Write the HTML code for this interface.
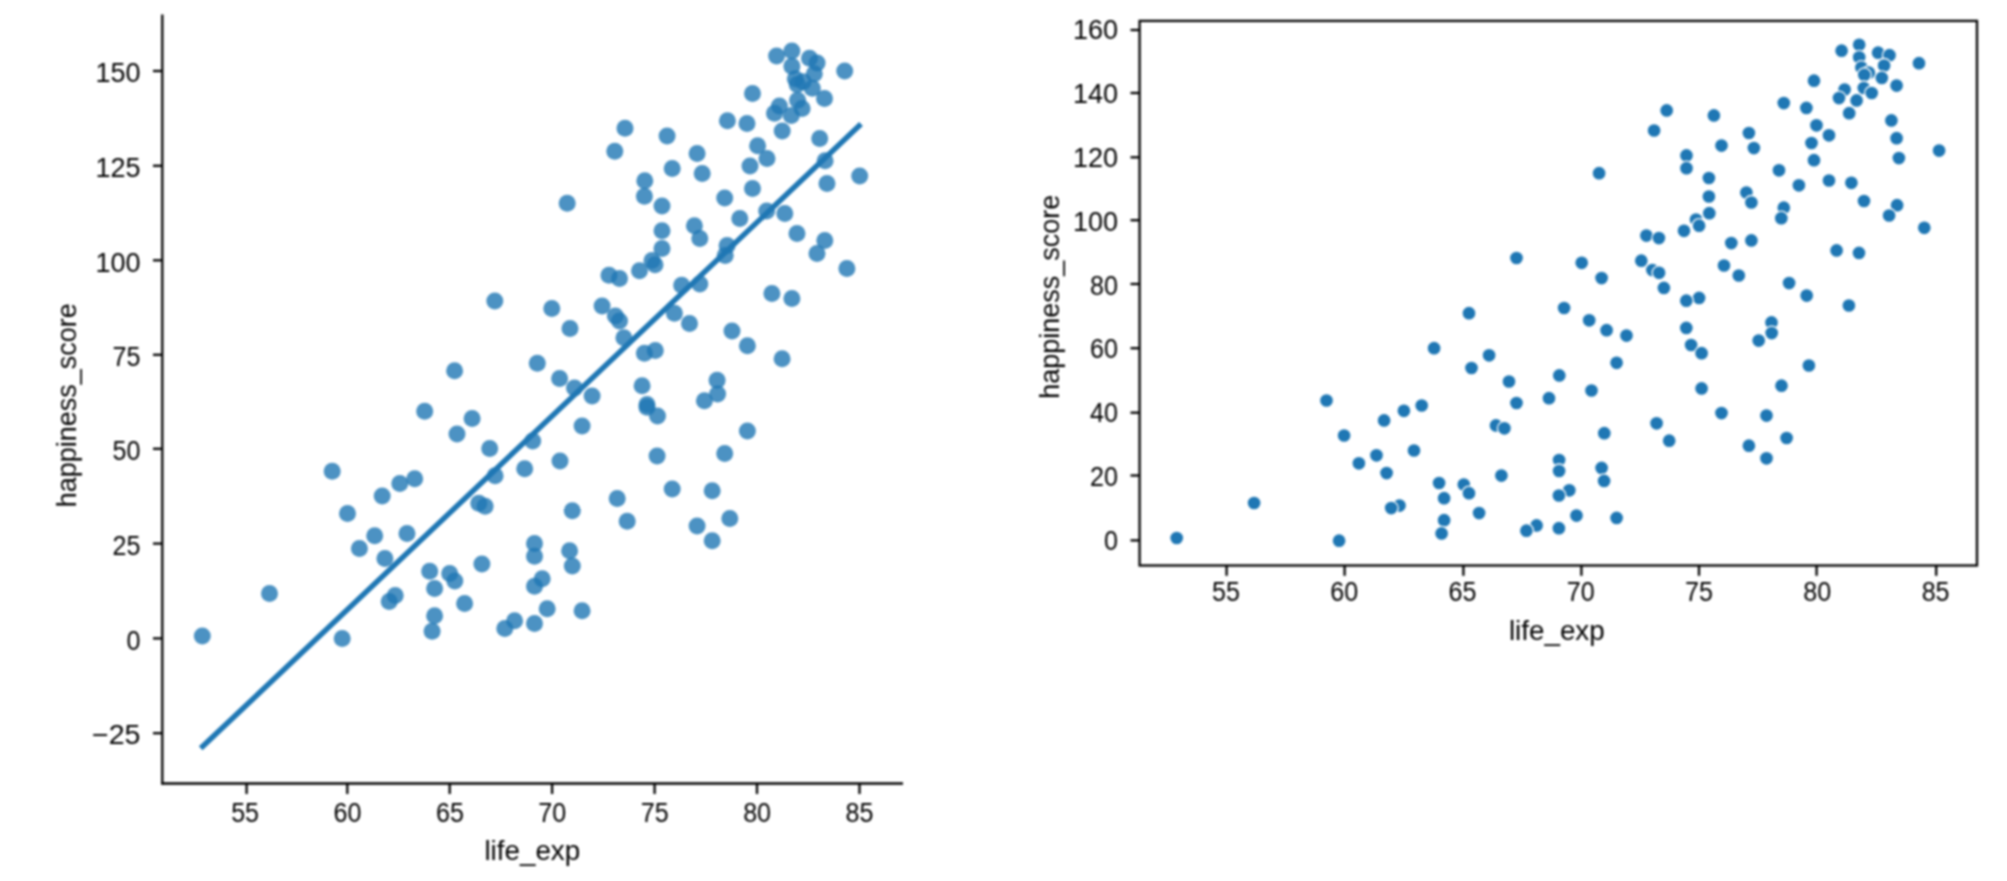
<!DOCTYPE html>
<html><head><meta charset="utf-8"><title>scatter</title>
<style>html,body{margin:0;padding:0;background:#fff;}svg{display:block;filter:blur(0.9px);}text{font-family:"Liberation Sans",sans-serif;fill:#000;}</style>
</head><body>
<svg width="2007" height="881" viewBox="0 0 2007 881">
<rect x="0" y="0" width="2007" height="881" fill="#ffffff"/>
<g id="left">
<g fill="#1f77b4" fill-opacity="0.8">
<circle cx="776.6" cy="56.0" r="8.5"/>
<circle cx="791.9" cy="50.9" r="8.5"/>
<circle cx="791.9" cy="66.2" r="8.5"/>
<circle cx="809.5" cy="58.3" r="8.5"/>
<circle cx="817.1" cy="63.0" r="8.5"/>
<circle cx="844.7" cy="71.1" r="8.5"/>
<circle cx="814.3" cy="73.8" r="8.5"/>
<circle cx="795.3" cy="78.7" r="8.5"/>
<circle cx="797.2" cy="84.6" r="8.5"/>
<circle cx="803.2" cy="81.8" r="8.5"/>
<circle cx="812.3" cy="88.3" r="8.5"/>
<circle cx="824.5" cy="98.6" r="8.5"/>
<circle cx="797.6" cy="100.3" r="8.5"/>
<circle cx="802.1" cy="108.4" r="8.5"/>
<circle cx="779.4" cy="105.9" r="8.5"/>
<circle cx="774.5" cy="113.3" r="8.5"/>
<circle cx="791.3" cy="115.6" r="8.5"/>
<circle cx="782.2" cy="130.9" r="8.5"/>
<circle cx="625.0" cy="128.3" r="8.5"/>
<circle cx="614.8" cy="151.2" r="8.5"/>
<circle cx="667.1" cy="135.9" r="8.5"/>
<circle cx="697.1" cy="153.5" r="8.5"/>
<circle cx="672.2" cy="168.4" r="8.5"/>
<circle cx="702.2" cy="173.5" r="8.5"/>
<circle cx="644.8" cy="180.8" r="8.5"/>
<circle cx="727.4" cy="120.8" r="8.5"/>
<circle cx="747.0" cy="123.4" r="8.5"/>
<circle cx="752.5" cy="93.6" r="8.5"/>
<circle cx="757.6" cy="145.7" r="8.5"/>
<circle cx="767.0" cy="158.4" r="8.5"/>
<circle cx="750.0" cy="165.9" r="8.5"/>
<circle cx="819.7" cy="138.4" r="8.5"/>
<circle cx="825.1" cy="160.8" r="8.5"/>
<circle cx="827.0" cy="183.5" r="8.5"/>
<circle cx="859.7" cy="175.9" r="8.5"/>
<circle cx="567.2" cy="203.2" r="8.5"/>
<circle cx="644.4" cy="196.3" r="8.5"/>
<circle cx="662.0" cy="206.0" r="8.5"/>
<circle cx="724.7" cy="198.1" r="8.5"/>
<circle cx="752.5" cy="188.5" r="8.5"/>
<circle cx="739.8" cy="218.5" r="8.5"/>
<circle cx="766.7" cy="210.9" r="8.5"/>
<circle cx="784.8" cy="213.6" r="8.5"/>
<circle cx="797.0" cy="233.6" r="8.5"/>
<circle cx="662.0" cy="230.8" r="8.5"/>
<circle cx="694.4" cy="225.8" r="8.5"/>
<circle cx="699.8" cy="238.6" r="8.5"/>
<circle cx="662.0" cy="248.6" r="8.5"/>
<circle cx="727.1" cy="245.4" r="8.5"/>
<circle cx="725.2" cy="255.4" r="8.5"/>
<circle cx="824.8" cy="240.5" r="8.5"/>
<circle cx="817.0" cy="253.5" r="8.5"/>
<circle cx="846.9" cy="268.4" r="8.5"/>
<circle cx="652.0" cy="260.4" r="8.5"/>
<circle cx="655.0" cy="264.8" r="8.5"/>
<circle cx="639.5" cy="270.8" r="8.5"/>
<circle cx="609.0" cy="275.3" r="8.5"/>
<circle cx="619.5" cy="278.4" r="8.5"/>
<circle cx="681.7" cy="285.3" r="8.5"/>
<circle cx="699.8" cy="284.1" r="8.5"/>
<circle cx="771.9" cy="293.5" r="8.5"/>
<circle cx="791.9" cy="298.6" r="8.5"/>
<circle cx="551.8" cy="308.4" r="8.5"/>
<circle cx="602.1" cy="306.0" r="8.5"/>
<circle cx="615.4" cy="316.0" r="8.5"/>
<circle cx="619.5" cy="320.9" r="8.5"/>
<circle cx="570.0" cy="328.5" r="8.5"/>
<circle cx="623.9" cy="337.8" r="8.5"/>
<circle cx="674.4" cy="313.2" r="8.5"/>
<circle cx="689.5" cy="323.6" r="8.5"/>
<circle cx="732.0" cy="330.9" r="8.5"/>
<circle cx="747.4" cy="345.8" r="8.5"/>
<circle cx="782.1" cy="358.7" r="8.5"/>
<circle cx="644.4" cy="353.2" r="8.5"/>
<circle cx="655.3" cy="350.5" r="8.5"/>
<circle cx="537.3" cy="363.2" r="8.5"/>
<circle cx="559.6" cy="378.5" r="8.5"/>
<circle cx="574.5" cy="388.1" r="8.5"/>
<circle cx="592.1" cy="395.9" r="8.5"/>
<circle cx="642.1" cy="385.7" r="8.5"/>
<circle cx="717.1" cy="380.3" r="8.5"/>
<circle cx="717.6" cy="393.9" r="8.5"/>
<circle cx="704.4" cy="400.8" r="8.5"/>
<circle cx="582.1" cy="425.9" r="8.5"/>
<circle cx="747.4" cy="431.1" r="8.5"/>
<circle cx="647.0" cy="404.4" r="8.5"/>
<circle cx="647.0" cy="407.3" r="8.5"/>
<circle cx="657.5" cy="416.0" r="8.5"/>
<circle cx="560.0" cy="460.9" r="8.5"/>
<circle cx="657.1" cy="456.0" r="8.5"/>
<circle cx="724.7" cy="453.6" r="8.5"/>
<circle cx="672.2" cy="489.0" r="8.5"/>
<circle cx="712.2" cy="490.8" r="8.5"/>
<circle cx="617.2" cy="498.5" r="8.5"/>
<circle cx="572.3" cy="510.8" r="8.5"/>
<circle cx="627.2" cy="521.2" r="8.5"/>
<circle cx="697.1" cy="525.9" r="8.5"/>
<circle cx="729.8" cy="518.6" r="8.5"/>
<circle cx="712.2" cy="540.8" r="8.5"/>
<circle cx="534.5" cy="543.5" r="8.5"/>
<circle cx="534.5" cy="556.2" r="8.5"/>
<circle cx="569.6" cy="550.8" r="8.5"/>
<circle cx="572.3" cy="565.9" r="8.5"/>
<circle cx="532.7" cy="440.9" r="8.5"/>
<circle cx="542.2" cy="578.7" r="8.5"/>
<circle cx="534.5" cy="586.3" r="8.5"/>
<circle cx="547.2" cy="608.7" r="8.5"/>
<circle cx="582.1" cy="610.8" r="8.5"/>
<circle cx="534.5" cy="623.6" r="8.5"/>
<circle cx="494.8" cy="300.9" r="8.5"/>
<circle cx="454.6" cy="370.8" r="8.5"/>
<circle cx="424.7" cy="411.2" r="8.5"/>
<circle cx="472.1" cy="418.6" r="8.5"/>
<circle cx="457.0" cy="433.9" r="8.5"/>
<circle cx="489.7" cy="448.5" r="8.5"/>
<circle cx="332.2" cy="471.2" r="8.5"/>
<circle cx="399.8" cy="483.6" r="8.5"/>
<circle cx="414.7" cy="478.7" r="8.5"/>
<circle cx="382.2" cy="495.9" r="8.5"/>
<circle cx="347.5" cy="513.5" r="8.5"/>
<circle cx="374.7" cy="535.7" r="8.5"/>
<circle cx="407.0" cy="533.5" r="8.5"/>
<circle cx="359.4" cy="548.6" r="8.5"/>
<circle cx="384.9" cy="558.6" r="8.5"/>
<circle cx="495.1" cy="475.8" r="8.5"/>
<circle cx="524.7" cy="468.7" r="8.5"/>
<circle cx="478.8" cy="503.2" r="8.5"/>
<circle cx="485.1" cy="506.3" r="8.5"/>
<circle cx="481.9" cy="563.9" r="8.5"/>
<circle cx="429.7" cy="571.3" r="8.5"/>
<circle cx="202.3" cy="635.9" r="8.5"/>
<circle cx="269.5" cy="593.6" r="8.5"/>
<circle cx="342.2" cy="638.5" r="8.5"/>
<circle cx="449.7" cy="573.6" r="8.5"/>
<circle cx="454.8" cy="580.9" r="8.5"/>
<circle cx="434.6" cy="588.5" r="8.5"/>
<circle cx="395.2" cy="595.4" r="8.5"/>
<circle cx="389.2" cy="601.4" r="8.5"/>
<circle cx="464.6" cy="603.6" r="8.5"/>
<circle cx="434.6" cy="615.8" r="8.5"/>
<circle cx="432.1" cy="631.2" r="8.5"/>
<circle cx="514.6" cy="620.8" r="8.5"/>
<circle cx="504.8" cy="628.6" r="8.5"/>
</g>
<line x1="200.7" y1="748.3" x2="861" y2="124" stroke="#1f77b4" stroke-width="5.4" stroke-linecap="butt"/>
<g stroke="#000000" stroke-width="2.3" fill="none">
<line x1="162.3" y1="14.5" x2="162.3" y2="784.5"/>
<line x1="161.3" y1="783.5" x2="903" y2="783.5"/>
<line x1="246.6" y1="783.5" x2="246.6" y2="794"/>
<line x1="347.3" y1="783.5" x2="347.3" y2="794"/>
<line x1="449.7" y1="783.5" x2="449.7" y2="794"/>
<line x1="552.1" y1="783.5" x2="552.1" y2="794"/>
<line x1="654.6" y1="783.5" x2="654.6" y2="794"/>
<line x1="757.0" y1="783.5" x2="757.0" y2="794"/>
<line x1="859.5" y1="783.5" x2="859.5" y2="794"/>
<line x1="153" y1="71" x2="162.3" y2="71"/>
<line x1="153" y1="165.8" x2="162.3" y2="165.8"/>
<line x1="153" y1="260.3" x2="162.3" y2="260.3"/>
<line x1="153" y1="354.8" x2="162.3" y2="354.8"/>
<line x1="153" y1="448.8" x2="162.3" y2="448.8"/>
<line x1="153" y1="543.6" x2="162.3" y2="543.6"/>
<line x1="153" y1="638.4" x2="162.3" y2="638.4"/>
<line x1="153" y1="733.2" x2="162.3" y2="733.2"/>
</g>
<text transform="translate(245.1,822.0) scale(0.93,1)" font-size="27" text-anchor="middle">55</text>
<text transform="translate(347.5,822.0) scale(0.93,1)" font-size="27" text-anchor="middle">60</text>
<text transform="translate(449.9,822.0) scale(0.93,1)" font-size="27" text-anchor="middle">65</text>
<text transform="translate(552.3,822.0) scale(0.93,1)" font-size="27" text-anchor="middle">70</text>
<text transform="translate(654.7,822.0) scale(0.93,1)" font-size="27" text-anchor="middle">75</text>
<text transform="translate(757.1,822.0) scale(0.93,1)" font-size="27" text-anchor="middle">80</text>
<text transform="translate(859.5,822.0) scale(0.93,1)" font-size="27" text-anchor="middle">85</text>
<text transform="translate(140.5,82.2)" font-size="27" text-anchor="end">150</text>
<text transform="translate(140.5,177.0)" font-size="27" text-anchor="end">125</text>
<text transform="translate(140.5,271.5)" font-size="27" text-anchor="end">100</text>
<text transform="translate(140.5,366.0) scale(0.93,1)" font-size="27" text-anchor="end">75</text>
<text transform="translate(140.5,460.0) scale(0.93,1)" font-size="27" text-anchor="end">50</text>
<text transform="translate(140.5,554.8) scale(0.93,1)" font-size="27" text-anchor="end">25</text>
<text transform="translate(140.5,649.6) scale(0.93,1)" font-size="27" text-anchor="end">0</text>
<text transform="translate(140.5,744.4) scale(1.06,1)" font-size="27" text-anchor="end">−25</text>
<text transform="translate(532.3,860.0) scale(1.03,1)" font-size="27" text-anchor="middle">life_exp</text>
<text transform="translate(76,405.3) rotate(-90)" font-size="27" text-anchor="middle">happiness_score</text>
</g>
<g id="right">
<g fill="#1f77b4" stroke="#ffffff" stroke-width="1.3">
<circle cx="1176.7" cy="538.0" r="7.0"/>
<circle cx="1254.1" cy="503.0" r="7.0"/>
<circle cx="1339.1" cy="540.7" r="7.0"/>
<circle cx="1326.5" cy="400.5" r="7.0"/>
<circle cx="1344.1" cy="435.5" r="7.0"/>
<circle cx="1358.9" cy="463.3" r="7.0"/>
<circle cx="1376.5" cy="455.3" r="7.0"/>
<circle cx="1384.1" cy="420.4" r="7.0"/>
<circle cx="1386.6" cy="473.1" r="7.0"/>
<circle cx="1403.9" cy="410.8" r="7.0"/>
<circle cx="1421.7" cy="405.5" r="7.0"/>
<circle cx="1414.0" cy="450.5" r="7.0"/>
<circle cx="1399.5" cy="505.6" r="7.0"/>
<circle cx="1391.2" cy="508.1" r="7.0"/>
<circle cx="1439.1" cy="483.0" r="7.0"/>
<circle cx="1444.1" cy="498.2" r="7.0"/>
<circle cx="1444.1" cy="520.2" r="7.0"/>
<circle cx="1441.6" cy="533.4" r="7.0"/>
<circle cx="1463.8" cy="484.6" r="7.0"/>
<circle cx="1469.0" cy="493.2" r="7.0"/>
<circle cx="1479.1" cy="513.1" r="7.0"/>
<circle cx="1496.0" cy="425.4" r="7.0"/>
<circle cx="1504.4" cy="428.3" r="7.0"/>
<circle cx="1501.4" cy="475.6" r="7.0"/>
<circle cx="1516.5" cy="403.0" r="7.0"/>
<circle cx="1509.0" cy="381.5" r="7.0"/>
<circle cx="1549.0" cy="398.2" r="7.0"/>
<circle cx="1536.6" cy="525.4" r="7.0"/>
<circle cx="1526.4" cy="530.7" r="7.0"/>
<circle cx="1591.5" cy="390.5" r="7.0"/>
<circle cx="1604.3" cy="433.2" r="7.0"/>
<circle cx="1559.1" cy="460.1" r="7.0"/>
<circle cx="1559.1" cy="471.0" r="7.0"/>
<circle cx="1601.6" cy="467.9" r="7.0"/>
<circle cx="1604.1" cy="480.9" r="7.0"/>
<circle cx="1569.3" cy="490.3" r="7.0"/>
<circle cx="1558.9" cy="495.5" r="7.0"/>
<circle cx="1576.5" cy="515.6" r="7.0"/>
<circle cx="1616.6" cy="517.9" r="7.0"/>
<circle cx="1558.9" cy="528.2" r="7.0"/>
<circle cx="1656.6" cy="423.3" r="7.0"/>
<circle cx="1669.2" cy="440.7" r="7.0"/>
<circle cx="1701.6" cy="388.4" r="7.0"/>
<circle cx="1721.5" cy="413.1" r="7.0"/>
<circle cx="1748.9" cy="445.7" r="7.0"/>
<circle cx="1766.5" cy="415.6" r="7.0"/>
<circle cx="1766.5" cy="458.3" r="7.0"/>
<circle cx="1781.5" cy="385.7" r="7.0"/>
<circle cx="1786.6" cy="438.0" r="7.0"/>
<circle cx="1516.5" cy="258.0" r="7.0"/>
<circle cx="1469.0" cy="313.2" r="7.0"/>
<circle cx="1434.1" cy="348.2" r="7.0"/>
<circle cx="1489.1" cy="355.3" r="7.0"/>
<circle cx="1471.5" cy="368.0" r="7.0"/>
<circle cx="1559.3" cy="375.4" r="7.0"/>
<circle cx="1564.1" cy="308.0" r="7.0"/>
<circle cx="1581.7" cy="262.8" r="7.0"/>
<circle cx="1589.2" cy="320.3" r="7.0"/>
<circle cx="1601.6" cy="278.1" r="7.0"/>
<circle cx="1606.6" cy="330.2" r="7.0"/>
<circle cx="1626.5" cy="335.6" r="7.0"/>
<circle cx="1616.6" cy="362.8" r="7.0"/>
<circle cx="1646.4" cy="235.6" r="7.0"/>
<circle cx="1658.9" cy="238.1" r="7.0"/>
<circle cx="1641.3" cy="260.7" r="7.0"/>
<circle cx="1652.4" cy="270.1" r="7.0"/>
<circle cx="1659.1" cy="272.8" r="7.0"/>
<circle cx="1663.9" cy="287.9" r="7.0"/>
<circle cx="1684.0" cy="230.8" r="7.0"/>
<circle cx="1696.0" cy="219.5" r="7.0"/>
<circle cx="1699.1" cy="225.7" r="7.0"/>
<circle cx="1709.3" cy="213.2" r="7.0"/>
<circle cx="1708.9" cy="196.5" r="7.0"/>
<circle cx="1699.1" cy="297.9" r="7.0"/>
<circle cx="1686.3" cy="300.7" r="7.0"/>
<circle cx="1686.3" cy="327.9" r="7.0"/>
<circle cx="1691.1" cy="345.0" r="7.0"/>
<circle cx="1701.6" cy="353.2" r="7.0"/>
<circle cx="1724.0" cy="265.5" r="7.0"/>
<circle cx="1738.8" cy="275.5" r="7.0"/>
<circle cx="1731.3" cy="243.1" r="7.0"/>
<circle cx="1751.4" cy="240.4" r="7.0"/>
<circle cx="1746.4" cy="192.6" r="7.0"/>
<circle cx="1751.4" cy="202.5" r="7.0"/>
<circle cx="1783.8" cy="207.7" r="7.0"/>
<circle cx="1781.3" cy="218.2" r="7.0"/>
<circle cx="1789.1" cy="283.1" r="7.0"/>
<circle cx="1806.7" cy="295.6" r="7.0"/>
<circle cx="1771.5" cy="322.4" r="7.0"/>
<circle cx="1771.7" cy="333.1" r="7.0"/>
<circle cx="1758.7" cy="340.6" r="7.0"/>
<circle cx="1808.9" cy="365.5" r="7.0"/>
<circle cx="1836.6" cy="250.4" r="7.0"/>
<circle cx="1859.0" cy="252.9" r="7.0"/>
<circle cx="1848.9" cy="305.5" r="7.0"/>
<circle cx="1864.0" cy="201.0" r="7.0"/>
<circle cx="1897.1" cy="205.2" r="7.0"/>
<circle cx="1889.1" cy="215.5" r="7.0"/>
<circle cx="1924.3" cy="227.8" r="7.0"/>
<circle cx="1599.1" cy="173.2" r="7.0"/>
<circle cx="1654.1" cy="130.5" r="7.0"/>
<circle cx="1666.7" cy="110.4" r="7.0"/>
<circle cx="1686.5" cy="155.4" r="7.0"/>
<circle cx="1686.5" cy="168.2" r="7.0"/>
<circle cx="1713.9" cy="115.4" r="7.0"/>
<circle cx="1721.5" cy="145.6" r="7.0"/>
<circle cx="1708.9" cy="178.0" r="7.0"/>
<circle cx="1748.9" cy="133.0" r="7.0"/>
<circle cx="1753.9" cy="148.1" r="7.0"/>
<circle cx="1779.0" cy="170.3" r="7.0"/>
<circle cx="1783.8" cy="103.1" r="7.0"/>
<circle cx="1798.9" cy="185.3" r="7.0"/>
<circle cx="1806.4" cy="107.9" r="7.0"/>
<circle cx="1814.0" cy="80.7" r="7.0"/>
<circle cx="1816.5" cy="125.3" r="7.0"/>
<circle cx="1829.0" cy="135.3" r="7.0"/>
<circle cx="1811.5" cy="143.0" r="7.0"/>
<circle cx="1814.0" cy="160.2" r="7.0"/>
<circle cx="1829.0" cy="180.5" r="7.0"/>
<circle cx="1851.4" cy="182.8" r="7.0"/>
<circle cx="1891.4" cy="120.4" r="7.0"/>
<circle cx="1896.6" cy="138.2" r="7.0"/>
<circle cx="1898.9" cy="158.1" r="7.0"/>
<circle cx="1939.1" cy="150.6" r="7.0"/>
<circle cx="1841.6" cy="50.7" r="7.0"/>
<circle cx="1859.2" cy="44.8" r="7.0"/>
<circle cx="1859.2" cy="57.3" r="7.0"/>
<circle cx="1861.4" cy="67.6" r="7.0"/>
<circle cx="1868.9" cy="72.7" r="7.0"/>
<circle cx="1864.3" cy="74.9" r="7.0"/>
<circle cx="1878.1" cy="52.7" r="7.0"/>
<circle cx="1889.5" cy="55.2" r="7.0"/>
<circle cx="1884.1" cy="65.5" r="7.0"/>
<circle cx="1881.8" cy="77.9" r="7.0"/>
<circle cx="1896.6" cy="85.6" r="7.0"/>
<circle cx="1919.0" cy="63.2" r="7.0"/>
<circle cx="1863.8" cy="88.0" r="7.0"/>
<circle cx="1871.7" cy="93.0" r="7.0"/>
<circle cx="1844.6" cy="89.6" r="7.0"/>
<circle cx="1839.0" cy="98.1" r="7.0"/>
<circle cx="1856.6" cy="100.4" r="7.0"/>
<circle cx="1849.2" cy="113.2" r="7.0"/>
</g>
<g stroke="#000000" stroke-width="2.3" fill="none">
<rect x="1139.6" y="20.9" width="837.4" height="544.6"/>
<line x1="1226.6" y1="565.5" x2="1226.6" y2="575.8"/>
<line x1="1344.6" y1="565.5" x2="1344.6" y2="575.8"/>
<line x1="1463.4" y1="565.5" x2="1463.4" y2="575.8"/>
<line x1="1581.4" y1="565.5" x2="1581.4" y2="575.8"/>
<line x1="1699.0" y1="565.5" x2="1699.0" y2="575.8"/>
<line x1="1816.6" y1="565.5" x2="1816.6" y2="575.8"/>
<line x1="1936.2" y1="565.5" x2="1936.2" y2="575.8"/>
<line x1="1130.5" y1="30.0" x2="1139.6" y2="30.0"/>
<line x1="1130.5" y1="93.0" x2="1139.6" y2="93.0"/>
<line x1="1130.5" y1="157.3" x2="1139.6" y2="157.3"/>
<line x1="1130.5" y1="220.2" x2="1139.6" y2="220.2"/>
<line x1="1130.5" y1="284.0" x2="1139.6" y2="284.0"/>
<line x1="1130.5" y1="348.2" x2="1139.6" y2="348.2"/>
<line x1="1130.5" y1="412.7" x2="1139.6" y2="412.7"/>
<line x1="1130.5" y1="475.5" x2="1139.6" y2="475.5"/>
<line x1="1130.5" y1="540.4" x2="1139.6" y2="540.4"/>
</g>
<text transform="translate(1226.0,601.3) scale(0.93,1)" font-size="27" text-anchor="middle">55</text>
<text transform="translate(1344.3,601.3) scale(0.93,1)" font-size="27" text-anchor="middle">60</text>
<text transform="translate(1462.5,601.3) scale(0.93,1)" font-size="27" text-anchor="middle">65</text>
<text transform="translate(1580.8,601.3) scale(0.93,1)" font-size="27" text-anchor="middle">70</text>
<text transform="translate(1699.0,601.3) scale(0.93,1)" font-size="27" text-anchor="middle">75</text>
<text transform="translate(1817.3,601.3) scale(0.93,1)" font-size="27" text-anchor="middle">80</text>
<text transform="translate(1935.6,601.3) scale(0.93,1)" font-size="27" text-anchor="middle">85</text>
<text transform="translate(1118.0,549.7) scale(0.93,1)" font-size="27" text-anchor="end">0</text>
<text transform="translate(1118.0,485.9) scale(0.93,1)" font-size="27" text-anchor="end">20</text>
<text transform="translate(1118.0,422.1) scale(0.93,1)" font-size="27" text-anchor="end">40</text>
<text transform="translate(1118.0,358.3) scale(0.93,1)" font-size="27" text-anchor="end">60</text>
<text transform="translate(1118.0,294.5) scale(0.93,1)" font-size="27" text-anchor="end">80</text>
<text transform="translate(1118.0,230.7)" font-size="27" text-anchor="end">100</text>
<text transform="translate(1118.0,166.9)" font-size="27" text-anchor="end">120</text>
<text transform="translate(1118.0,103.1)" font-size="27" text-anchor="end">140</text>
<text transform="translate(1118.0,39.3)" font-size="27" text-anchor="end">160</text>
<text transform="translate(1556.8,639.7) scale(1.03,1)" font-size="27" text-anchor="middle">life_exp</text>
<text transform="translate(1058.5,296.7) rotate(-90)" font-size="27" text-anchor="middle">happiness_score</text>
</g>
</svg></body></html>
